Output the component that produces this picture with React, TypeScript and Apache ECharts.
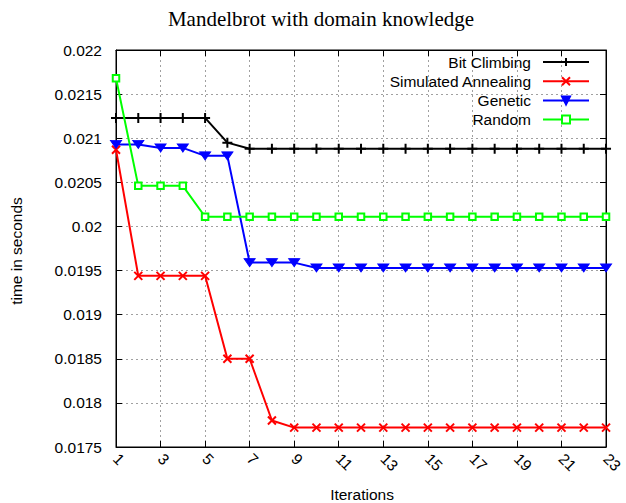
import React, { useEffect, useRef } from "react";
import * as echarts from "echarts";

const iterations = ["1","2","3","4","5","6","7","8","9","10","11","12","13","14","15","16","17","18","19","20","21","22","23"];
const bitClimbing = [0.02123,0.02123,0.02123,0.02123,0.02123,0.02095,0.02088,0.02088,0.02088,0.02088,0.02088,0.02088,0.02088,0.02088,0.02088,0.02088,0.02088,0.02088,0.02088,0.02088,0.02088,0.02088,0.02088];
const simulatedAnnealing = [0.02087,0.01944,0.01944,0.01944,0.01944,0.0185,0.0185,0.0178,0.01772,0.01772,0.01772,0.01772,0.01772,0.01772,0.01772,0.01772,0.01772,0.01772,0.01772,0.01772,0.01772,0.01772,0.01772];
const genetic = [0.02093,0.02093,0.02089,0.02089,0.0208,0.0208,0.01959,0.01959,0.01959,0.01953,0.01953,0.01953,0.01953,0.01953,0.01953,0.01953,0.01953,0.01953,0.01953,0.01953,0.01953,0.01953,0.01953];
const random = [0.02168,0.02046,0.02046,0.02046,0.02011,0.02011,0.02011,0.02011,0.02011,0.02011,0.02011,0.02011,0.02011,0.02011,0.02011,0.02011,0.02011,0.02011,0.02011,0.02011,0.02011,0.02011,0.02011];
const seriesNames = ["Bit Climbing", "Simulated Annealing", "Genetic", "Random"];
const yMin = 0.0175;
const yMax = 0.022;
const yStep = 0.0005;

const SANS = "'Liberation Sans', Arial, sans-serif";
const SERIF = "'Liberation Serif', 'Times New Roman', serif";
const FS = 15.5;

export default function App() {
  const ref = useRef<HTMLDivElement>(null);
  useEffect(() => {
    if (!ref.current) return;
    const chart = echarts.init(ref.current, null, { renderer: "svg" });
    const gridLine = { show: true, lineStyle: { color: "#a0a0a0", type: [2, 3], width: 1 } };
    const tick = { show: true, inside: true, length: 6, lineStyle: { color: "#000", width: 1 } };
    const axLine = { show: true, onZero: false, lineStyle: { color: "#000", width: 1 } };
    const fmt = (v: number) => String(+v.toFixed(5));
    chart.setOption({
      animation: false,
      backgroundColor: "#fff",
      graphic: [
        { type: "text", x: 321, y: 19, style: { text: "Mandelbrot with domain knowledge", fontFamily: SERIF, fontSize: 21, fill: "#000", textAlign: "center", textVerticalAlign: "middle" } },
        { type: "text", x: 16, y: 251, rotation: Math.PI / 2, style: { text: "time in seconds", fontFamily: SANS, fontSize: FS, fill: "#000", textAlign: "center", textVerticalAlign: "middle" } },
        { type: "text", x: 362, y: 494, style: { text: "Iterations", fontFamily: SANS, fontSize: FS, fill: "#000", textAlign: "center", textVerticalAlign: "middle" } },
      ],
      grid: { left: 116, right: 17, top: 50, bottom: 56, show: true, borderColor: "#000", borderWidth: 1, backgroundColor: "transparent" },
      legend: {
        orient: "vertical",
        right: 36,
        top: 54,
        padding: 0,
        align: "right",
        itemWidth: 46,
        itemHeight: 10,
        itemGap: 3.2,
        data: seriesNames,
        textStyle: { fontFamily: SANS, fontSize: FS, color: "#000", lineHeight: 16, padding: [0, 7, 0, 0] },
      },
      xAxis: [
        {
          type: "category",
          data: iterations,
          boundaryGap: false,
          axisLine: axLine,
          axisTick: { ...tick, interval: 1 },
          axisLabel: { interval: 1, rotate: -45, margin: 9, fontFamily: SANS, fontSize: FS, color: "#000" },
          splitLine: { ...gridLine, interval: 1 },
        },
        {
          type: "category",
          data: iterations,
          position: "top",
          boundaryGap: false,
          axisLine: axLine,
          axisTick: { ...tick, interval: 1 },
          axisLabel: { show: false },
          splitLine: { show: false },
        },
      ],
      yAxis: [
        {
          type: "value",
          min: yMin,
          max: yMax,
          interval: yStep,
          axisLine: axLine,
          axisTick: tick,
          axisLabel: { formatter: fmt, margin: 14, fontFamily: SANS, fontSize: FS, color: "#000" },
          splitLine: gridLine,
        },
        {
          type: "value",
          position: "right",
          min: yMin,
          max: yMax,
          interval: yStep,
          axisLine: axLine,
          axisTick: tick,
          axisLabel: { show: false },
          splitLine: { show: false },
        },
      ],
      series: [
        {
          name: seriesNames[0],
          type: "line",
          data: bitClimbing,
          symbol: "path://M5,0V10M0,5H10",
          symbolSize: 10,
          showAllSymbol: true,
          lineStyle: { color: "#000", width: 2 },
          itemStyle: { color: "#000", borderColor: "#000", borderWidth: 2 },
        },
        {
          name: seriesNames[1],
          type: "line",
          data: simulatedAnnealing,
          symbol: "path://M0,0L10,10M10,0L0,10",
          symbolSize: 8,
          showAllSymbol: true,
          lineStyle: { color: "#ff0000", width: 2 },
          itemStyle: { color: "#ff0000", borderColor: "#ff0000", borderWidth: 2 },
        },
        {
          name: seriesNames[2],
          type: "line",
          data: genetic,
          symbol: "triangle",
          symbolRotate: 180,
          symbolSize: [11, 8],
          showAllSymbol: true,
          lineStyle: { color: "#0000ff", width: 2 },
          itemStyle: { color: "#0000ff", borderColor: "#0000ff", borderWidth: 1 },
        },
        {
          name: seriesNames[3],
          type: "line",
          data: random,
          symbol: "emptyRect",
          symbolSize: 6.5,
          showAllSymbol: true,
          lineStyle: { color: "#00ff00", width: 2 },
          itemStyle: { color: "#00ff00", borderColor: "#00ff00", borderWidth: 1.5 },
        },
      ],
    });
    return () => chart.dispose();
  }, []);
  return <div ref={ref} style={{ position: "fixed", left: 0, top: 0, width: 626, height: 503 }} />;
}
